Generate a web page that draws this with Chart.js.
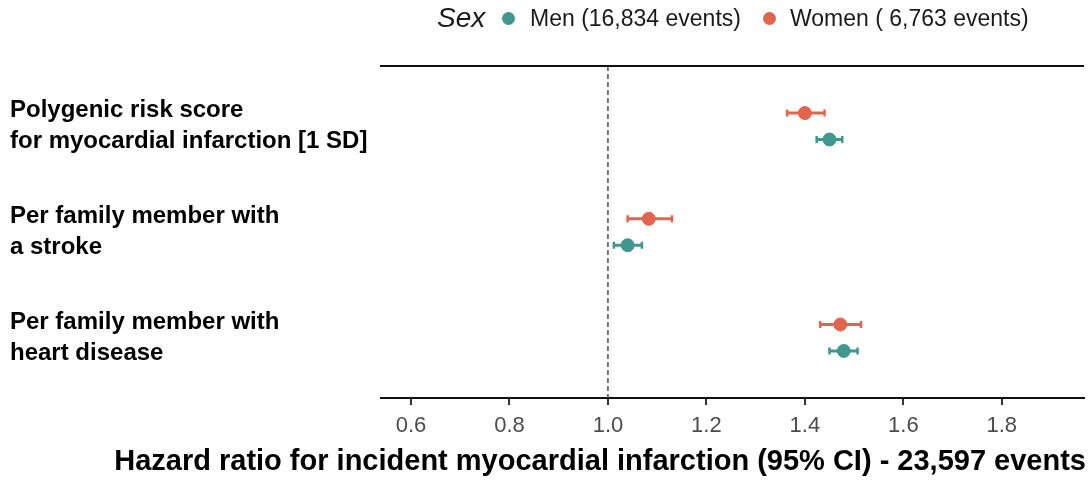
<!DOCTYPE html>
<html>
<head>
<meta charset="utf-8">
<script src="https://cdn.jsdelivr.net/npm/chart.js@4"></script>
<style>
  html, body { margin: 0; padding: 0; background: #fff; }
  #wrap { position: relative; width: 1091px; height: 482px; font-family: "Liberation Sans", Arial, sans-serif; }
  #legend span { position: absolute; white-space: pre; color: #1a1a1a; }
  #legend .title { font-style: italic; font-size: 28px; line-height: 32px; top: 2px; left: 437px; }
  #legend .lbl { font-size: 23px; line-height: 28px; top: 4px; }
  #legend .dot { width: 13px; height: 13px; border-radius: 50%; top: 12px; }
</style>
</head>
<body>
<div id="wrap">
  <canvas id="chart" width="1091" height="482"></canvas>
  <div id="legend"></div>
</div>
<script>
const categories = [
  ['Polygenic risk score', 'for myocardial infarction [1 SD]'],
  ['Per family member with', 'a stroke'],
  ['Per family member with', 'heart disease']
];
const seriesNames = ['Men (16,834 events)', 'Women ( 6,763 events)'];
const menHR = [1.450, 1.040, 1.479];
const menLo = [1.424, 1.012, 1.450];
const menHi = [1.476, 1.069, 1.507];
const womenHR = [1.400, 1.083, 1.472];
const womenLo = [1.364, 1.040, 1.431];
const womenHi = [1.440, 1.130, 1.514];
const xTicks = [0.6, 0.8, 1.0, 1.2, 1.4, 1.6, 1.8];
const refLine = 1.0;

const MEN = '#43958f';
const WOMEN = '#e1654e';
const FONT = '"Liberation Sans", Arial, sans-serif';
const X_MIN = 0.539, X_MAX = 1.966;
const Y_MIN = 0.43, Y_MAX = 3.57;
const dodge = 0.125;

// html legend, same look as the ggplot one
const legend = document.getElementById('legend');
legend.innerHTML =
  '<span class="title">Sex</span>' +
  '<span class="dot" style="left:502px;background:' + MEN + '"></span>' +
  '<span class="lbl" style="left:530px">' + seriesNames[0] + '</span>' +
  '<span class="dot" style="left:763px;background:' + WOMEN + '"></span>' +
  '<span class="lbl" style="left:790px">' + seriesNames[1] + '</span>';

function pointSet(hr, shift, color) {
  return {
    type: 'scatter',
    data: hr.map((v, i) => ({ x: v, y: i + 1 + shift })),
    backgroundColor: color,
    borderColor: color,
    pointRadius: 6.5,
    order: 0
  };
}

function ciSets(lo, hi, shift, color) {
  return lo.map((l, i) => ({
    type: 'line',
    data: [{ x: l, y: i + 1 + shift }, { x: hi[i], y: i + 1 + shift }],
    borderColor: color,
    borderWidth: 3,
    pointStyle: 'line',
    rotation: 90,
    pointRadius: 3.5,
    pointBorderWidth: 2.5,
    pointBorderColor: color,
    order: 1
  }));
}

const datasets = [
  pointSet(womenHR, -dodge, WOMEN),
  pointSet(menHR, dodge, MEN),
  ...ciSets(womenLo, womenHi, -dodge, WOMEN),
  ...ciSets(menLo, menHi, dodge, MEN),
  {
    type: 'line',
    data: [{ x: refLine, y: Y_MIN }, { x: refLine, y: Y_MAX }],
    borderColor: '#333',
    borderWidth: 1.3,
    borderDash: [5, 3],
    pointRadius: 0,
    order: 2
  }
];

new Chart(document.getElementById('chart'), {
  type: 'scatter',
  data: { datasets },
  options: {
    responsive: false,
    animation: false,
    events: [],
    layout: { padding: { left: 10, top: 66, right: 5, bottom: 0 } },
    plugins: {
      legend: { display: false },
      tooltip: { enabled: false },
      // axis title goes in the chart title so it can run wider than the axis
      title: {
        display: true,
        position: 'bottom',
        align: 'end',
        text: 'Hazard ratio for incident myocardial infarction (95% CI) - 23,597 events',
        color: '#000',
        padding: { top: 4, bottom: 3 },
        font: { family: FONT, size: 29, weight: 'bold', lineHeight: 1.2 }
      }
    },
    scales: {
      x: {
        type: 'linear',
        position: 'bottom',
        min: X_MIN,
        max: X_MAX,
        afterBuildTicks: s => { s.ticks = xTicks.map(v => ({ value: v })); },
        afterFit: s => { s.height = 42.2; },
        border: { display: true, color: '#111', width: 2 },
        grid: { drawOnChartArea: false, drawTicks: true, tickLength: 7, color: '#333', lineWidth: 2 },
        ticks: {
          color: '#4d4d4d',
          padding: 8,
          font: { family: FONT, size: 22 },
          callback: v => v.toFixed(1)
        }
      },
      xTop: {
        type: 'linear',
        position: 'top',
        min: X_MIN,
        max: X_MAX,
        afterFit: s => { s.height = 0; },
        border: { display: true, color: '#111', width: 2 },
        grid: { drawOnChartArea: false, drawTicks: false },
        ticks: { display: false }
      },
      y: {
        type: 'linear',
        reverse: true,
        min: Y_MIN,
        max: Y_MAX,
        afterBuildTicks: s => { s.ticks = categories.map((c, i) => ({ value: i + 1 })); },
        afterFit: s => { s.width = 371; },
        border: { display: false },
        grid: { display: false },
        ticks: {
          crossAlign: 'far',
          color: '#000',
          font: { family: FONT, size: 24, weight: 'bold', lineHeight: 1.3 },
          callback: v => categories[v - 1]
        }
      }
    }
  }
});
</script>
</body>
</html>
